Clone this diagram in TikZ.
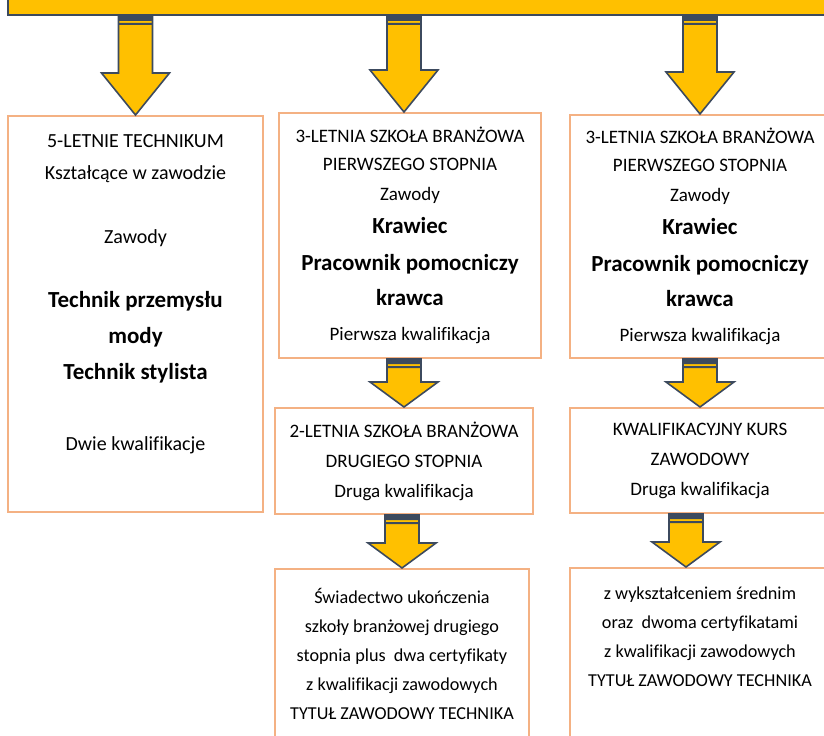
\documentclass[tikz,border=0pt]{standalone}
\usepackage{fontspec}
\setmainfont{Carlito}[Ligatures=NoCommon]
\usepackage{tikz}
\usetikzlibrary{calc}

\definecolor{arrowfill}{HTML}{FFC000}
\definecolor{arrowline}{HTML}{3C4A5E}
\definecolor{boxline}{HTML}{F4B183}

\tikzset{
  stage/.style={draw=boxline, line width=1pt, fill=white, align=center, inner sep=0pt},
  topbar/.style={fill=arrowfill, draw=arrowline, line width=0.8pt},
  arrowbody/.style={fill=arrowfill, draw=arrowline, line width=0.8pt, line join=miter}
}

\newcommand{\trade}[1]{{\fontsize{11.5}{16}\selectfont\bfseries #1}}
% block arrow: [head length]{tail}{tip}
\newcommand{\blockarrow}[3][12.5pt]{%
  \draw[arrowbody] let \p1=(#2), \p2=(#3) in
    (\x2-8.5pt,\y1) -- (\x2+8.5pt,\y1) -- (\x2+8.5pt,\y2+#1) -- (\x2+17pt,\y2+#1)
    -- (\x2,\y2) -- (\x2-17pt,\y2+#1) -- (\x2-8.5pt,\y2+#1) -- cycle;
  \fill[arrowline] let \p1=(#2), \p2=(#3) in
    (\x2-8.5pt,\y1) rectangle (\x2+8.5pt,\y1-2.5pt)
    (\x2-8.5pt,\y1-3.5pt) rectangle (\x2+8.5pt,\y1-4.5pt);
}

\begin{document}
\begin{tikzpicture}[x=0.5pt,y=-0.5pt]
  \useasboundingbox (0,0) rectangle (824,735);
  \node[topbar, minimum width=411pt, minimum height=12.5pt] (bar) at (419,2.5) {};

  \node[stage, minimum width=127.5pt, minimum height=198pt, font=\fontsize{10}{16}\selectfont] (tech) at (135.5,314)
    {5-LETNIE TECHNIKUM\\ Kształcące w zawodzie\\[16pt] Zawody\\[16pt]
     \trade{Technik przemysłu}\\[2pt] \trade{mody}\\[2pt] \trade{Technik stylista}\\[19.5pt]
     Dwie kwalifikacje\\[6pt]~};

  \node[stage, minimum width=131pt, minimum height=122.5pt, font=\fontsize{9.5}{14}\selectfont] (schoolA) at (410,235.5)
    {3-LETNIA SZKOŁA BRANŻOWA\\ PIERWSZEGO STOPNIA\\[1pt] Zawody\\[2.5pt]
     \trade{Krawiec}\\[4.5pt] \trade{Pracownik pomocniczy}\\[3.5pt] \trade{krawca}\\[3.5pt]
     Pierwsza kwalifikacja};
  \node[stage, minimum width=129pt, minimum height=53pt, font=\fontsize{9.5}{15}\selectfont] (secondA) at (404,461)
    {2-LETNIA SZKOŁA BRANŻOWA\\ DRUGIEGO STOPNIA\\ Druga kwalifikacja};
  \node[stage, minimum width=127pt, minimum height=85pt, font=\fontsize{9.1}{14.5}\selectfont] (certA) at (402,654)
    {Świadectwo ukończenia\\ szkoły branżowej drugiego\\ stopnia plus\ \ dwa certyfikaty\\
     z kwalifikacji zawodowych\\ TYTUŁ ZAWODOWY TECHNIKA};

  \node[stage, minimum width=130pt, minimum height=121.5pt, font=\fontsize{9.5}{14}\selectfont] (schoolB) at (700,236.5)
    {3-LETNIA SZKOŁA BRANŻOWA\\ PIERWSZEGO STOPNIA\\[1pt] Zawody\\[2.5pt]
     \trade{Krawiec}\\[4.5pt] \trade{Pracownik pomocniczy}\\[3.5pt] \trade{krawca}\\[3.5pt]
     Pierwsza kwalifikacja};
  \node[stage, minimum width=130pt, minimum height=52.5pt, font=\fontsize{9.5}{15}\selectfont] (courseB) at (700,460.5)
    {KWALIFIKACYJNY KURS\\ ZAWODOWY\\ Druga kwalifikacja};
  \node[stage, minimum width=130pt, minimum height=88.5pt, font=\fontsize{9.1}{14.5}\selectfont] (certB) at (700,656.5)
    {z wykształceniem średnim\\ oraz\ \ dwoma certyfikatami\\ z kwalifikacji zawodowych\\
     TYTUŁ ZAWODOWY TECHNIKA\\[5.5pt]~};

  \blockarrow[21pt]{bar.south -| tech.north}{tech.north}
  \blockarrow[21pt]{bar.south -| schoolA.north}{$(schoolA.north)+(-3pt,0)$}
  \blockarrow[21pt]{bar.south -| schoolB.north}{schoolB.north}
  \blockarrow{schoolA.south}{secondA.north}
  \blockarrow{secondA.south}{certA.north}
  \blockarrow{schoolB.south}{courseB.north}
  \blockarrow{courseB.south}{$(certB.north)+(-7pt,0)$}
\end{tikzpicture}
\end{document}
